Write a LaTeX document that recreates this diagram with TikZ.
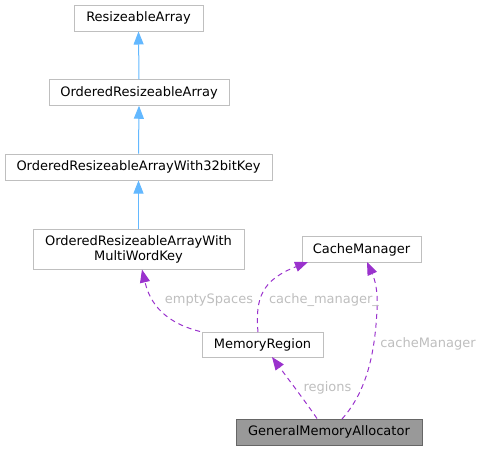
\documentclass[tikz,border=0pt]{standalone}
\usepackage{fontspec}
\setmainfont{DejaVu Sans}
\usetikzlibrary{arrows.meta}
\definecolor{boxline}{HTML}{BFBFBF}
\definecolor{lbl}{HTML}{BEBEBE}
\definecolor{inhblue}{HTML}{63B8FF}
\definecolor{usepurple}{HTML}{9A32CD}
\definecolor{gmafill}{HTML}{999999}
\definecolor{gmaline}{HTML}{666666}
\tikzset{
  cls/.style={draw=boxline, line width=1pt, fill=white, inner sep=0pt, font=\fontsize{13pt}{15pt}\selectfont, align=center, text=black},
  inh/.style={draw=inhblue, line width=1pt, -{Triangle[length=13pt,width=10pt]}},
  usearrow/.style={draw=usepurple, line width=1pt, dash pattern=on 5pt off 4pt, -{Triangle[length=13pt,width=10pt]}},
  lab/.style={text=lbl, font=\fontsize{13pt}{15pt}\selectfont, inner sep=0pt}
}
\begin{document}
\begin{tikzpicture}[x=1pt,y=-1pt]
\useasboundingbox (0,0) rectangle (483,451);
\node[cls, minimum width=129pt, minimum height=26pt] (ra) at (138.5,18) {ResizeableArray};
\node[cls, minimum width=180pt, minimum height=25.5pt] (ora) at (139,92.5) {OrderedResizeableArray};
\node[cls, minimum width=267pt, minimum height=26pt] (ora32) at (138.5,167) {OrderedResizeableArrayWith32bitKey};
\node[cls, minimum width=211pt, minimum height=40pt] (oramw) at (138.5,249) {OrderedResizeableArrayWith\\MultiWordKey};
\node[cls, minimum width=119pt, minimum height=25.5pt] (cm) at (361.5,249.5) {CacheManager};
\node[cls, minimum width=121pt, minimum height=25pt] (mr) at (262.5,344.5) {MemoryRegion};
\node[cls, draw=gmaline, fill=gmafill, minimum width=186pt, minimum height=26pt] (gma) at (329,432) {GeneralMemoryAllocator};

\draw[inh] (ora.north) -- (ra.south);
\draw[inh] (ora32.north) -- (ora.south);
\draw[inh] (oramw.north) -- (ora32.south);

\coordinate (es0) at (200,331.5);
\coordinate (es1) at (142,269.5);
\draw[usearrow] (es0) .. controls (175,325) and (152,312) .. (es1);

\coordinate (cmu0) at (258,332);
\coordinate (cmu1) at (308,262);
\draw[usearrow] (cmu0) .. controls (255,298) and (262,280) .. (cmu1);

\coordinate (cmm0) at (342,419);
\coordinate (cmm1) at (367,262);
\draw[usearrow] (cmm0) .. controls (368,390) and (375,350) .. (377,310) .. controls (378,290) and (375,280) .. (cmm1);

\coordinate (rg0) at (317,418.5);
\coordinate (rg1) at (272,357);
\draw[usearrow] (rg0) .. controls (305,401) and (286,376) .. (rg1);

\node[lab] (lesp) at (209,300) {emptySpaces};
\node[lab] (lcmu) at (324,300) {cache\_manager\_};
\node[lab] (lcmm) at (428,344) {cacheManager};
\node[lab] (lrg) at (327.5,388) {regions};
\end{tikzpicture}
\end{document}
